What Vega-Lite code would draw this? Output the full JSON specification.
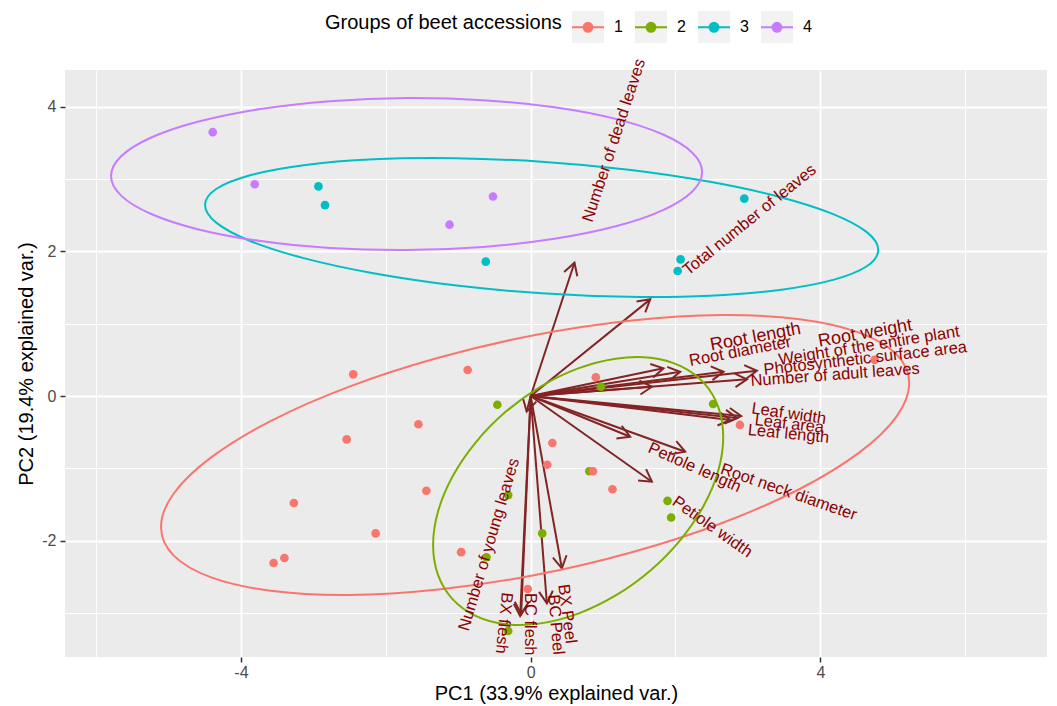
{
  "$schema": "https://vega.github.io/schema/vega-lite/v6.json",
  "width": 982,
  "height": 587,
  "autosize": {"type": "none"},
  "padding": {"left": 65, "top": 70, "right": 10, "bottom": 49},
  "background": "white",
  "config": {
    "view": {"fill": "#EBEBEB", "stroke": null},
    "font": "Liberation Sans"
  },
  "datasets": {
    "vars": [
      {"name": "Number of dead leaves", "x": 0.605, "y": 1.844, "lx": 0.849, "ly": 2.393, "ang": -71.8},
      {"name": "Total number of leaves", "x": 1.651, "y": 1.337, "lx": 2.175, "ly": 1.66, "ang": -39},
      {"name": "Root length", "x": 2.065, "y": 0.336, "lx": 2.493, "ly": 0.629, "ang": -10.5},
      {"name": "Root diameter", "x": 1.834, "y": 0.383, "lx": 2.203, "ly": 0.415, "ang": -10.7},
      {"name": "Root weight", "x": 1.674, "y": 0.129, "lx": 3.985, "ly": 0.682, "ang": -10},
      {"name": "Weight of the entire plant", "x": 3.124, "y": 0.35, "lx": 3.436, "ly": 0.429, "ang": -9},
      {"name": "Photosynthetic surface area", "x": 2.663, "y": 0.336, "lx": 3.225, "ly": 0.29, "ang": -6.5},
      {"name": "Number of adult leaves", "x": 2.986, "y": 0.231, "lx": 3.041, "ly": 0.138, "ang": -4.2},
      {"name": "Leaf width", "x": 2.907, "y": -0.277, "lx": 3.041, "ly": -0.239, "ang": 8.2},
      {"name": "Leaf area", "x": 2.852, "y": -0.304, "lx": 3.087, "ly": -0.401, "ang": 6.5},
      {"name": "Leaf length", "x": 2.756, "y": -0.332, "lx": 2.994, "ly": -0.539, "ang": 5.5},
      {"name": "Petiole length", "x": 1.374, "y": -0.563, "lx": 1.605, "ly": -0.77, "ang": 24},
      {"name": "Root neck diameter", "x": 2.134, "y": -0.77, "lx": 2.608, "ly": -1.069, "ang": 19.2},
      {"name": "Petiole width", "x": 1.674, "y": -1.185, "lx": 1.941, "ly": -1.494, "ang": 35.2},
      {"name": "Number of young leaves", "x": -0.055, "y": -0.214, "lx": -0.859, "ly": -3.26, "ang": -73.5},
      {"name": "BX flesh", "x": -0.145, "y": -3.043, "lx": -0.394, "ly": -2.711, "ang": 96},
      {"name": "BC flesh", "x": -0.131, "y": -3.015, "lx": -0.076, "ly": -2.725, "ang": 90},
      {"name": "BC Peel", "x": 0.224, "y": -2.867, "lx": 0.242, "ly": -2.752, "ang": 85},
      {"name": "BX Peel", "x": 0.431, "y": -2.383, "lx": 0.38, "ly": -2.614, "ang": 82.5}
    ],
    "pts": [
      {"g": "2", "x": -0.46, "y": -0.12},
      {"g": "2", "x": 0.97, "y": 0.13},
      {"g": "2", "x": 2.52, "y": -0.11},
      {"g": "2", "x": 0.81, "y": -1.04},
      {"g": "2", "x": -0.31, "y": -1.37},
      {"g": "2", "x": 0.16, "y": -1.9},
      {"g": "2", "x": -0.61, "y": -2.23},
      {"g": "2", "x": -0.31, "y": -3.25},
      {"g": "2", "x": 1.89, "y": -1.45},
      {"g": "2", "x": 1.94, "y": -1.68},
      {"g": "1", "x": -2.45, "y": 0.3},
      {"g": "1", "x": -0.87, "y": 0.36},
      {"g": "1", "x": -1.55, "y": -0.39},
      {"g": "1", "x": -2.54, "y": -0.6},
      {"g": "1", "x": -1.44, "y": -1.31},
      {"g": "1", "x": -3.27, "y": -1.48},
      {"g": "1", "x": -2.14, "y": -1.9},
      {"g": "1", "x": -0.96, "y": -2.16},
      {"g": "1", "x": -3.4, "y": -2.24},
      {"g": "1", "x": -3.55, "y": -2.31},
      {"g": "1", "x": 0.9, "y": 0.26},
      {"g": "1", "x": 0.3, "y": -0.65},
      {"g": "1", "x": 0.23, "y": -0.95},
      {"g": "1", "x": 0.86, "y": -1.04},
      {"g": "1", "x": 1.13, "y": -1.29},
      {"g": "1", "x": 2.89, "y": -0.4},
      {"g": "1", "x": 4.75, "y": 0.5},
      {"g": "1", "x": -0.04, "y": -2.67},
      {"g": "3", "x": -2.93, "y": 2.9},
      {"g": "3", "x": -2.84, "y": 2.64},
      {"g": "3", "x": -0.62, "y": 1.86},
      {"g": "3", "x": 2.95, "y": 2.73},
      {"g": "3", "x": 2.07, "y": 1.89},
      {"g": "3", "x": 2.03, "y": 1.73},
      {"g": "4", "x": -4.39, "y": 3.65},
      {"g": "4", "x": -3.81, "y": 2.93},
      {"g": "4", "x": -0.52, "y": 2.76},
      {"g": "4", "x": -1.12, "y": 2.37}
    ],
    "ell": [
      {"g": "1", "i": 0, "x": 5.228, "y": 0.18},
      {"g": "1", "i": 1, "x": 5.052, "y": 0.576},
      {"g": "1", "i": 2, "x": 4.536, "y": 0.877},
      {"g": "1", "i": 3, "x": 3.715, "y": 1.062},
      {"g": "1", "i": 4, "x": 2.645, "y": 1.12},
      {"g": "1", "i": 5, "x": 1.399, "y": 1.045},
      {"g": "1", "i": 6, "x": 0.062, "y": 0.844},
      {"g": "1", "i": 7, "x": -1.275, "y": 0.529},
      {"g": "1", "i": 8, "x": -2.521, "y": 0.124},
      {"g": "1", "i": 9, "x": -3.591, "y": -0.346},
      {"g": "1", "i": 10, "x": -4.412, "y": -0.849},
      {"g": "1", "i": 11, "x": -4.928, "y": -1.348},
      {"g": "1", "i": 12, "x": -5.104, "y": -1.812},
      {"g": "1", "i": 13, "x": -4.928, "y": -2.208},
      {"g": "1", "i": 14, "x": -4.412, "y": -2.509},
      {"g": "1", "i": 15, "x": -3.591, "y": -2.694},
      {"g": "1", "i": 16, "x": -2.521, "y": -2.752},
      {"g": "1", "i": 17, "x": -1.275, "y": -2.677},
      {"g": "1", "i": 18, "x": 0.062, "y": -2.476},
      {"g": "1", "i": 19, "x": 1.399, "y": -2.161},
      {"g": "1", "i": 20, "x": 2.645, "y": -1.756},
      {"g": "1", "i": 21, "x": 3.715, "y": -1.286},
      {"g": "1", "i": 22, "x": 4.536, "y": -0.783},
      {"g": "1", "i": 23, "x": 5.052, "y": -0.284},
      {"g": "2", "i": 0, "x": 2.659, "y": -0.567},
      {"g": "2", "i": 1, "x": 2.591, "y": -0.153},
      {"g": "2", "i": 2, "x": 2.391, "y": 0.181},
      {"g": "2", "i": 3, "x": 2.072, "y": 0.413},
      {"g": "2", "i": 4, "x": 1.658, "y": 0.529},
      {"g": "2", "i": 5, "x": 1.174, "y": 0.517},
      {"g": "2", "i": 6, "x": 0.656, "y": 0.382},
      {"g": "2", "i": 7, "x": 0.138, "y": 0.131},
      {"g": "2", "i": 8, "x": -0.346, "y": -0.219},
      {"g": "2", "i": 9, "x": -0.76, "y": -0.643},
      {"g": "2", "i": 10, "x": -1.079, "y": -1.113},
      {"g": "2", "i": 11, "x": -1.279, "y": -1.597},
      {"g": "2", "i": 12, "x": -1.347, "y": -2.061},
      {"g": "2", "i": 13, "x": -1.279, "y": -2.475},
      {"g": "2", "i": 14, "x": -1.079, "y": -2.809},
      {"g": "2", "i": 15, "x": -0.76, "y": -3.041},
      {"g": "2", "i": 16, "x": -0.346, "y": -3.157},
      {"g": "2", "i": 17, "x": 0.138, "y": -3.145},
      {"g": "2", "i": 18, "x": 0.656, "y": -3.01},
      {"g": "2", "i": 19, "x": 1.174, "y": -2.759},
      {"g": "2", "i": 20, "x": 1.658, "y": -2.409},
      {"g": "2", "i": 21, "x": 2.072, "y": -1.985},
      {"g": "2", "i": 22, "x": 2.391, "y": -1.515},
      {"g": "2", "i": 23, "x": 2.591, "y": -1.031},
      {"g": "3", "i": 0, "x": 4.8, "y": 2.02},
      {"g": "3", "i": 1, "x": 4.642, "y": 2.267},
      {"g": "3", "i": 2, "x": 4.177, "y": 2.517},
      {"g": "3", "i": 3, "x": 3.439, "y": 2.754},
      {"g": "3", "i": 4, "x": 2.476, "y": 2.963},
      {"g": "3", "i": 5, "x": 1.355, "y": 3.13},
      {"g": "3", "i": 6, "x": 0.152, "y": 3.241},
      {"g": "3", "i": 7, "x": -1.051, "y": 3.29},
      {"g": "3", "i": 8, "x": -2.172, "y": 3.275},
      {"g": "3", "i": 9, "x": -3.135, "y": 3.194},
      {"g": "3", "i": 10, "x": -3.873, "y": 3.055},
      {"g": "3", "i": 11, "x": -4.338, "y": 2.867},
      {"g": "3", "i": 12, "x": -4.496, "y": 2.642},
      {"g": "3", "i": 13, "x": -4.338, "y": 2.395},
      {"g": "3", "i": 14, "x": -3.873, "y": 2.145},
      {"g": "3", "i": 15, "x": -3.135, "y": 1.908},
      {"g": "3", "i": 16, "x": -2.172, "y": 1.699},
      {"g": "3", "i": 17, "x": -1.051, "y": 1.532},
      {"g": "3", "i": 18, "x": 0.152, "y": 1.421},
      {"g": "3", "i": 19, "x": 1.355, "y": 1.372},
      {"g": "3", "i": 20, "x": 2.476, "y": 1.387},
      {"g": "3", "i": 21, "x": 3.439, "y": 1.468},
      {"g": "3", "i": 22, "x": 4.177, "y": 1.607},
      {"g": "3", "i": 23, "x": 4.642, "y": 1.795},
      {"g": "4", "i": 0, "x": 2.368, "y": 3.099},
      {"g": "4", "i": 1, "x": 2.229, "y": 3.37},
      {"g": "4", "i": 2, "x": 1.821, "y": 3.621},
      {"g": "4", "i": 3, "x": 1.173, "y": 3.834},
      {"g": "4", "i": 4, "x": 0.328, "y": 3.995},
      {"g": "4", "i": 5, "x": -0.657, "y": 4.093},
      {"g": "4", "i": 6, "x": -1.713, "y": 4.122},
      {"g": "4", "i": 7, "x": -2.769, "y": 4.079},
      {"g": "4", "i": 8, "x": -3.754, "y": 3.967},
      {"g": "4", "i": 9, "x": -4.599, "y": 3.794},
      {"g": "4", "i": 10, "x": -5.247, "y": 3.573},
      {"g": "4", "i": 11, "x": -5.655, "y": 3.316},
      {"g": "4", "i": 12, "x": -5.794, "y": 3.043},
      {"g": "4", "i": 13, "x": -5.655, "y": 2.772},
      {"g": "4", "i": 14, "x": -5.247, "y": 2.521},
      {"g": "4", "i": 15, "x": -4.599, "y": 2.308},
      {"g": "4", "i": 16, "x": -3.754, "y": 2.147},
      {"g": "4", "i": 17, "x": -2.769, "y": 2.049},
      {"g": "4", "i": 18, "x": -1.713, "y": 2.02},
      {"g": "4", "i": 19, "x": -0.657, "y": 2.063},
      {"g": "4", "i": 20, "x": 0.328, "y": 2.175},
      {"g": "4", "i": 21, "x": 1.173, "y": 2.348},
      {"g": "4", "i": 22, "x": 1.821, "y": 2.569},
      {"g": "4", "i": 23, "x": 2.229, "y": 2.826}
    ]
  },
  "layer": [
    {
      "data": {"name": "vars"},
      "mark": {"type": "rule", "color": "#832424", "strokeWidth": 2},
      "encoding": {
        "x": {
          "field": "x", "type": "quantitative",
          "scale": {"domain": [-6.43, 7.13], "nice": false, "zero": false},
          "axis": {
            "title": "PC1 (33.9% explained var.)",
            "values": [-6, -4, -2, 0, 2, 4, 6],
            "grid": true,
            "gridColor": "#FFFFFF",
            "gridOpacity": 1,
            "gridWidth": {"condition": {"test": "datum.value % 4 === 0", "value": 1.9}, "value": 0.95},
            "domain": false,
            "tickColor": "#333333",
            "tickWidth": 1.5,
            "tickSize": 5,
            "tickOpacity": {"condition": {"test": "datum.value % 4 === 0", "value": 1}, "value": 0},
            "labelExpr": "datum.value % 4 === 0 ? '' + datum.value : ''",
            "labelFont": "Liberation Sans",
            "labelFontSize": 16,
            "labelColor": "#4D4D4D",
            "labelPadding": 2,
            "labelFlush": false,
            "labelOverlap": false,
            "titleFont": "Liberation Sans",
            "titleFontSize": 20,
            "titleFontWeight": "normal",
            "titleColor": "#000000",
            "titlePadding": 3
          }
        },
        "y": {
          "field": "y", "type": "quantitative",
          "scale": {"domain": [-3.61, 4.51], "nice": false, "zero": false},
          "axis": {
            "title": "PC2 (19.4% explained var.)",
            "values": [-3, -2, -1, 0, 1, 2, 3, 4],
            "grid": true,
            "gridColor": "#FFFFFF",
            "gridOpacity": 1,
            "gridWidth": {"condition": {"test": "datum.value % 2 === 0", "value": 1.9}, "value": 0.95},
            "domain": false,
            "tickColor": "#333333",
            "tickWidth": 1.5,
            "tickSize": 5,
            "tickOpacity": {"condition": {"test": "datum.value % 2 === 0", "value": 1}, "value": 0},
            "labelExpr": "datum.value % 2 === 0 ? '' + datum.value : ''",
            "labelFont": "Liberation Sans",
            "labelFontSize": 16,
            "labelColor": "#4D4D4D",
            "labelPadding": 4,
            "labelFlush": false,
            "labelOverlap": false,
            "titleFont": "Liberation Sans",
            "titleFontSize": 20,
            "titleFontWeight": "normal",
            "titleColor": "#000000",
            "titlePadding": 5
          }
        },
        "x2": {"datum": 0},
        "y2": {"datum": 0}
      }
    },
    {
      "data": {"name": "vars"},
      "mark": {
        "type": "point",
        "shape": "M-1,-0.577L0,0L-1,0.577",
        "filled": false,
        "color": "#832424",
        "strokeWidth": 2,
        "size": 576,
        "opacity": 1,
        "angle": {"expr": "-atan2(datum.y, datum.x) * 180 / PI"}
      },
      "encoding": {
        "x": {"field": "x", "type": "quantitative", "scale": {"domain": [-6.43, 7.13], "nice": false, "zero": false}},
        "y": {"field": "y", "type": "quantitative", "scale": {"domain": [-3.61, 4.51], "nice": false, "zero": false}}
      }
    },
    {
      "data": {"name": "pts"},
      "mark": {"type": "point", "filled": true, "color": "#F2F2F2", "size": 75, "opacity": 0},
      "encoding": {
        "x": {"field": "x", "type": "quantitative", "scale": {"domain": [-6.43, 7.13], "nice": false, "zero": false}},
        "y": {"field": "y", "type": "quantitative", "scale": {"domain": [-3.61, 4.51], "nice": false, "zero": false}},
        "shape": {
          "field": "g", "type": "nominal",
          "scale": {"domain": ["4", "3", "2", "1"], "range": ["square", "square", "square", "square"]},
          "legend": {
            "orient": "none",
            "legendX": 506,
            "legendY": -60,
            "zindex": 0,
            "direction": "horizontal",
            "title": null,
            "labelFont": "Liberation Sans",
            "labelFontSize": 16,
            "labelOpacity": 0,
            "labelOffset": 9,
            "columnPadding": 8,
            "symbolType": "square",
            "symbolSize": 1024,
            "symbolStrokeWidth": 2,
            "symbolFillColor": "#F2F2F2",
            "symbolStrokeColor": "transparent",
            "symbolOpacity": 1
          }
        }
      }
    },
    {
      "data": {"name": "pts"},
      "mark": {"type": "point", "filled": true, "size": 75, "opacity": 1},
      "encoding": {
        "x": {"field": "x", "type": "quantitative", "scale": {"domain": [-6.43, 7.13], "nice": false, "zero": false}},
        "y": {"field": "y", "type": "quantitative", "scale": {"domain": [-3.61, 4.51], "nice": false, "zero": false}},
        "color": {
          "field": "g", "type": "nominal",
          "scale": {"domain": ["1", "2", "3", "4"], "range": ["#F8766D", "#7CAE00", "#00BFC4", "#C77CFF"]},
          "legend": {
            "orient": "none",
            "legendX": 260,
            "legendY": -60,
            "zindex": 1,
            "direction": "horizontal",
            "title": "Groups of beet accessions",
            "titleLimit": 500,
            "titleOrient": "left",
            "titleAnchor": "middle",
            "titleBaseline": "middle",
            "titleFont": "Liberation Sans",
            "titleFontSize": 20,
            "titleFontWeight": "normal",
            "titleColor": "#000000",
            "titlePadding": 9,
            "labelFont": "Liberation Sans",
            "labelFontSize": 16,
            "labelColor": "#000000",
            "labelOffset": 9,
            "columnPadding": 8,
            "symbolType": "M-1,0L1,0M-0.28,0A0.28,0.28,0,1,1,0.28,0A0.28,0.28,0,1,1,-0.28,0Z",
            "symbolSize": 1024,
            "symbolStrokeWidth": 2,
            "symbolOpacity": 1
          }
        }
      }
    },
    {
      "data": {"name": "ell"},
      "mark": {"type": "line", "strokeWidth": 2, "interpolate": "cardinal-closed"},
      "encoding": {
        "x": {"field": "x", "type": "quantitative", "scale": {"domain": [-6.43, 7.13], "nice": false, "zero": false}},
        "y": {"field": "y", "type": "quantitative", "scale": {"domain": [-3.61, 4.51], "nice": false, "zero": false}},
        "color": {"field": "g", "type": "nominal", "scale": {"domain": ["1", "2", "3", "4"], "range": ["#F8766D", "#7CAE00", "#00BFC4", "#C77CFF"]}},
        "order": {"field": "i", "type": "quantitative"}
      }
    },
    {
      "data": {"name": "vars"},
      "transform": [{"filter": {"not": {"field": "name", "oneOf": ["Root length", "Root weight"]}}}],
      "mark": {"type": "text", "align": "left", "baseline": "alphabetic", "color": "#8B0000", "font": "Liberation Sans", "fontSize": 16.5},
      "encoding": {
        "x": {"field": "lx", "type": "quantitative", "scale": {"domain": [-6.43, 7.13], "nice": false, "zero": false}},
        "y": {"field": "ly", "type": "quantitative", "scale": {"domain": [-3.61, 4.51], "nice": false, "zero": false}},
        "text": {"field": "name"},
        "angle": {"field": "ang", "type": "quantitative", "scale": null}
      }
    },
    {
      "data": {"name": "vars"},
      "transform": [{"filter": {"field": "name", "oneOf": ["Root length", "Root weight"]}}],
      "mark": {"type": "text", "align": "left", "baseline": "alphabetic", "color": "#8B0000", "font": "Liberation Sans", "fontSize": 18},
      "encoding": {
        "x": {"field": "lx", "type": "quantitative", "scale": {"domain": [-6.43, 7.13], "nice": false, "zero": false}},
        "y": {"field": "ly", "type": "quantitative", "scale": {"domain": [-3.61, 4.51], "nice": false, "zero": false}},
        "text": {"field": "name"},
        "angle": {"field": "ang", "type": "quantitative", "scale": null}
      }
    }
  ]
}
